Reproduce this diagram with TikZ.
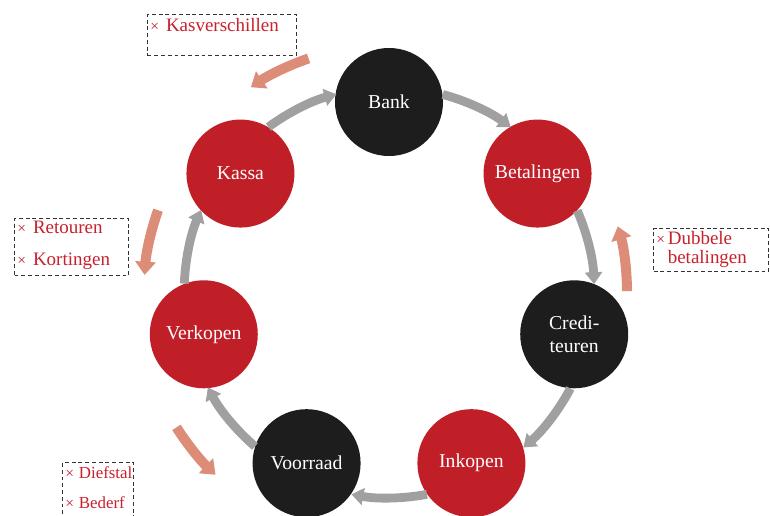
\documentclass[tikz,border=0pt]{standalone}
\usepackage{fontspec}
\setmainfont{Liberation Serif}
\usepackage{tikz}
\usetikzlibrary{arrows.meta}
\usetikzlibrary{positioning}
\definecolor{ringred}{HTML}{C01F28}
\definecolor{ringblack}{HTML}{1D1D1D}
\definecolor{flowgray}{HTML}{A0A0A0}
\definecolor{riskorange}{HTML}{DC8C77}
\definecolor{risktxt}{HTML}{C8202C}
\tikzset{ring/.style={circle, minimum size=2.7cm, inner sep=0pt, text=white, font=\fontsize{14}{16}\selectfont, align=center},
redring/.style={ring, fill=ringred},
blackring/.style={ring, fill=ringblack},
flow/.style={draw=flowgray, line width=0.22cm, -{Triangle[width=0.42cm,length=0.3cm]}},
riskflow/.style={draw=riskorange, line width=0.25cm, -{Triangle[width=0.5cm,length=0.33cm]}},
riskbox/.style={draw=black!80, dash pattern=on 2.8pt off 2pt, line width=0.8pt, anchor=north west, inner sep=0pt},
risktext/.style={text=risktxt, font=\fontsize{13.5}{16}\selectfont, align=left, anchor=west, inner sep=0pt}}
\newcommand{\riskmark}{{\fontsize{11}{11}\selectfont ×}\hspace{5pt}}

\begin{document}
\begin{tikzpicture}[x=0.025cm,y=0.025cm]
\useasboundingbox (-389,-223) rectangle (381,292);
\node (bank) [blackring] at (90:190) {Bank};
\node (betalingen) [redring] at (38.57:190) {Betalingen};
\node (crediteuren) [blackring] at (-12.86:190) {Credi-\\teuren};
\node (inkopen) [redring] at (-64.29:190) {Inkopen};
\node (voorraad) [blackring] at (-115.71:190) {Voorraad};
\node (verkopen) [redring] at (-167.14:190) {Verkopen};
\node (kassa) [redring] at (141.43:190) {Kassa};
% kringloop
\draw[flow] (bank.8.4) arc[start angle=74.9, end angle=53.7, radius=205];
\draw[flow] (betalingen.-43.03) arc[start angle=23.47, end angle=2.24, radius=205];
\draw[flow] (crediteuren.-94.46) arc[start angle=-27.96, end angle=-49.19, radius=205];
\draw[flow] (inkopen.-145.89) arc[start angle=-79.39, end angle=-100.61, radius=205];
\draw[flow] (voorraad.162.69) arc[start angle=-130.81, end angle=-152.04, radius=205];
\draw[flow] (verkopen.111.26) arc[start angle=-182.24, end angle=-203.47, radius=205];
\draw[flow] (kassa.59.83) arc[start angle=126.33, end angle=105.1, radius=205];
% risico's
\coordinate (kasstart) at (109:247);
\draw[riskflow] (kasstart) arc[start angle=109, end angle=124, radius=247];
\coordinate (retstart) at (160.5:245);
\draw[riskflow] (retstart) arc[start angle=160.5, end angle=176, radius=245];
\coordinate (diefstart) at (212.5:252);
\draw[riskflow] (diefstart) arc[start angle=212.5, end angle=226.5, radius=252];
\coordinate (dubstart) at (0.2:238);
\draw[riskflow] (dubstart) arc[start angle=0.2, end angle=16, radius=238];
% kaders
\node (kasbox) [riskbox, minimum width=3.725cm, minimum height=1.025cm] at (-242,278) {};
\node (kastekst) [risktext] at (-239,267) {\riskmark Kasverschillen};
\node (retbox) [riskbox, minimum width=2.85cm, minimum height=1.425cm] at (-375,74) {};
\node (rettekst) [risktext] at (-372,47) {\riskmark Retouren\\[6.7pt]\riskmark Kortingen};
\node (dubbox) [riskbox, minimum width=2.875cm, minimum height=1.075cm] at (264,64) {};
\node (dubtekst) [risktext, font=\fontsize{13.5}{13.5}\selectfont] at (267,43) {{\fontsize{11}{11}\selectfont ×}\hspace{2pt}Dubbele\\\phantom{{\fontsize{11}{11}\selectfont ×}\hspace{2pt}}betalingen};
\node (diefbox) [riskbox, minimum width=1.775cm, minimum height=1.5cm] at (-327,-170) {};
\node (dieftekst) [risktext, font=\fontsize{12}{15}\selectfont] at (-324,-196) {{\fontsize{11}{11}\selectfont ×}\hspace{3.5pt}Diefstal\\[6.3pt]{\fontsize{11}{11}\selectfont ×}\hspace{3.5pt}Bederf};
\end{tikzpicture}
\end{document}
